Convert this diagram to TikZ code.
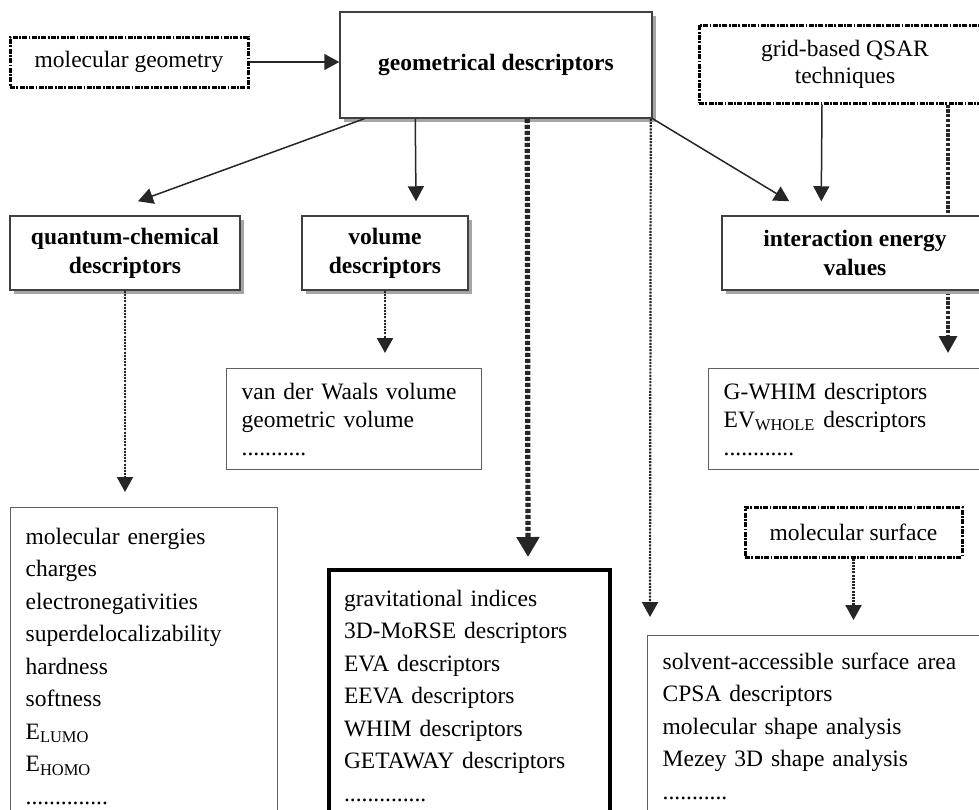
\documentclass[tikz,border=0pt]{standalone}
\usepackage{fontspec}
\setmainfont{Liberation Serif}
\usetikzlibrary{arrows.meta,positioning,shadows,calc,backgrounds}
\definecolor{boxgray}{RGB}{95,95,95}
\definecolor{shadegray}{RGB}{165,165,165}

\begin{document}
\begin{tikzpicture}[x=0.5pt,y=-0.5pt,every node/.style={font=\fontsize{11.75}{14.5}\selectfont},
      hbox/.style={draw=black!75,line width=0.75pt,fill=white,align=center,font=\fontsize{11.75}{14.5}\selectfont\bfseries,
        drop shadow={shadow xshift=2pt,shadow yshift=-2pt,fill=shadegray,opacity=1}},
      dbox/.style={draw=black,line width=1.5pt,dash pattern=on 2.5pt off 0.7pt on 0.9pt off 0.7pt,fill=white,align=center},
      lbox/.style={draw=boxgray,line width=0.7pt,fill=white,anchor=north west,align=left,inner xsep=7.5pt},
      arr/.style={-{Triangle[width=8pt,length=7.5pt]},line width=0.75pt,draw=black!85,fill=black!85},
      dotarr/.style={arr,line width=1.1pt,dash pattern=on 1pt off 0.6pt},
      gridarr/.style={arr,line width=1.6pt,dash pattern=on 1.6pt off 0.8pt,-{Triangle[width=9pt,length=8.5pt]}},
      boldarr/.style={arr,line width=2.6pt,dash pattern=on 2pt off 1pt,-{Triangle[width=11pt,length=10pt]}}]
  \useasboundingbox (0,0) rectangle (979,809);
  \clip (0,0) rectangle (979,809);
  % top row
  \node[dbox,minimum width=119pt,minimum height=25pt] (geom) at (129,62) {molecular geometry};
  \node[hbox,minimum width=156pt,minimum height=53pt] (geodesc) at (496,65) {geometrical descriptors};
  \node[dbox,minimum width=146pt,minimum height=39pt,font=\fontsize{11.75}{13.5}\selectfont] (grid) at (845,64) {grid-based QSAR\\techniques};
  % descriptor classes
  \node[hbox,minimum width=115pt,minimum height=37pt] (quantum) at (125,253) {quantum-chemical\\descriptors};
  \node[hbox,minimum width=83pt,minimum height=37pt] (volume) at (385,253) {volume\\descriptors};
  \node[hbox,minimum width=133pt,minimum height=37pt] (inter) at (855,253) {interaction energy\\values};
  % lists
  \node[lbox,text width=112.5pt,inner ysep=7pt,font=\fontsize{11.75}{14}\selectfont] (vdw) at (226,368)
    {van der Waals volume\\geometric volume\\...........};
  \node[lbox,text width=126pt,inner ysep=7pt,font=\fontsize{11.75}{14}\selectfont] (gwhim) at (708,368)
    {G-WHIM descriptors\\EV\textsubscript{WHOLE} descriptors\\............};
  \node[dbox,minimum width=108.5pt,minimum height=25pt] (surf) at (853.5,532) {molecular surface};
  \node[lbox,text width=118.5pt,inner ysep=10pt,font=\fontsize{11.75}{16.25}\selectfont] (energies) at (10,507)
    {molecular energies\\charges\\electronegativities\\superdelocalizability\\hardness\\softness\\E\textsubscript{LUMO}\\E\textsubscript{HOMO}\\..............};
  \node[lbox,text width=125.5pt,inner ysep=10pt,line width=2pt,draw=black,font=\fontsize{11.75}{16.25}\selectfont] (grav) at (327,568)
    {gravitational indices\\3D-MoRSE descriptors\\EVA descriptors\\EEVA descriptors\\WHIM descriptors\\GETAWAY descriptors\\..............};
  \node[lbox,text width=156.5pt,inner ysep=8.5pt,font=\fontsize{11.75}{16.25}\selectfont] (solvent) at (647,635)
    {solvent-accessible surface area\\CPSA descriptors\\molecular shape analysis\\Mezey 3D shape analysis\\...........};
  % solid arrows
  \draw[arr] (geom) -- (geom -| geodesc.west);
  \draw[arr] ($(geodesc.south west)+(12.5pt,0)$) -- ($(quantum.north)+(6.5pt,7pt)$);
  \draw[arr] ($(geodesc.south west)+(38pt,0)$) -- ($(volume.north)+(15.5pt,7pt)$);
  \draw[arr] (geodesc.south east) -- ($(inter.north west)+(34pt,7pt)$);
  \draw[arr] ($(grid.south)+(-11.5pt,0)$) -- ($(inter.north west)+(50pt,7pt)$);
  % dotted arrows
  \foreach \a/\b in {quantum/energies,volume/vdw,surf/solvent}{\draw[dotarr] (\a.south) -- ($(\a.south |- \b.north)+(0,7.5pt)$);}
  \draw[dotarr] ($(geodesc.south east)+(-1pt,0)$) -- ($(solvent.north west)+(1.5pt,9pt)$);
  \draw[boldarr] ($(geodesc.south west)+(94pt,0)$) -- ($(grav.north west)+(100.5pt,5.5pt)$);
  \begin{scope}[on background layer]
    \draw[gridarr] ($(grid.south)+(51.5pt,0)$) -- ($(gwhim.north west)+(120pt,7.5pt)$);
  \end{scope}
\end{tikzpicture}
\end{document}
